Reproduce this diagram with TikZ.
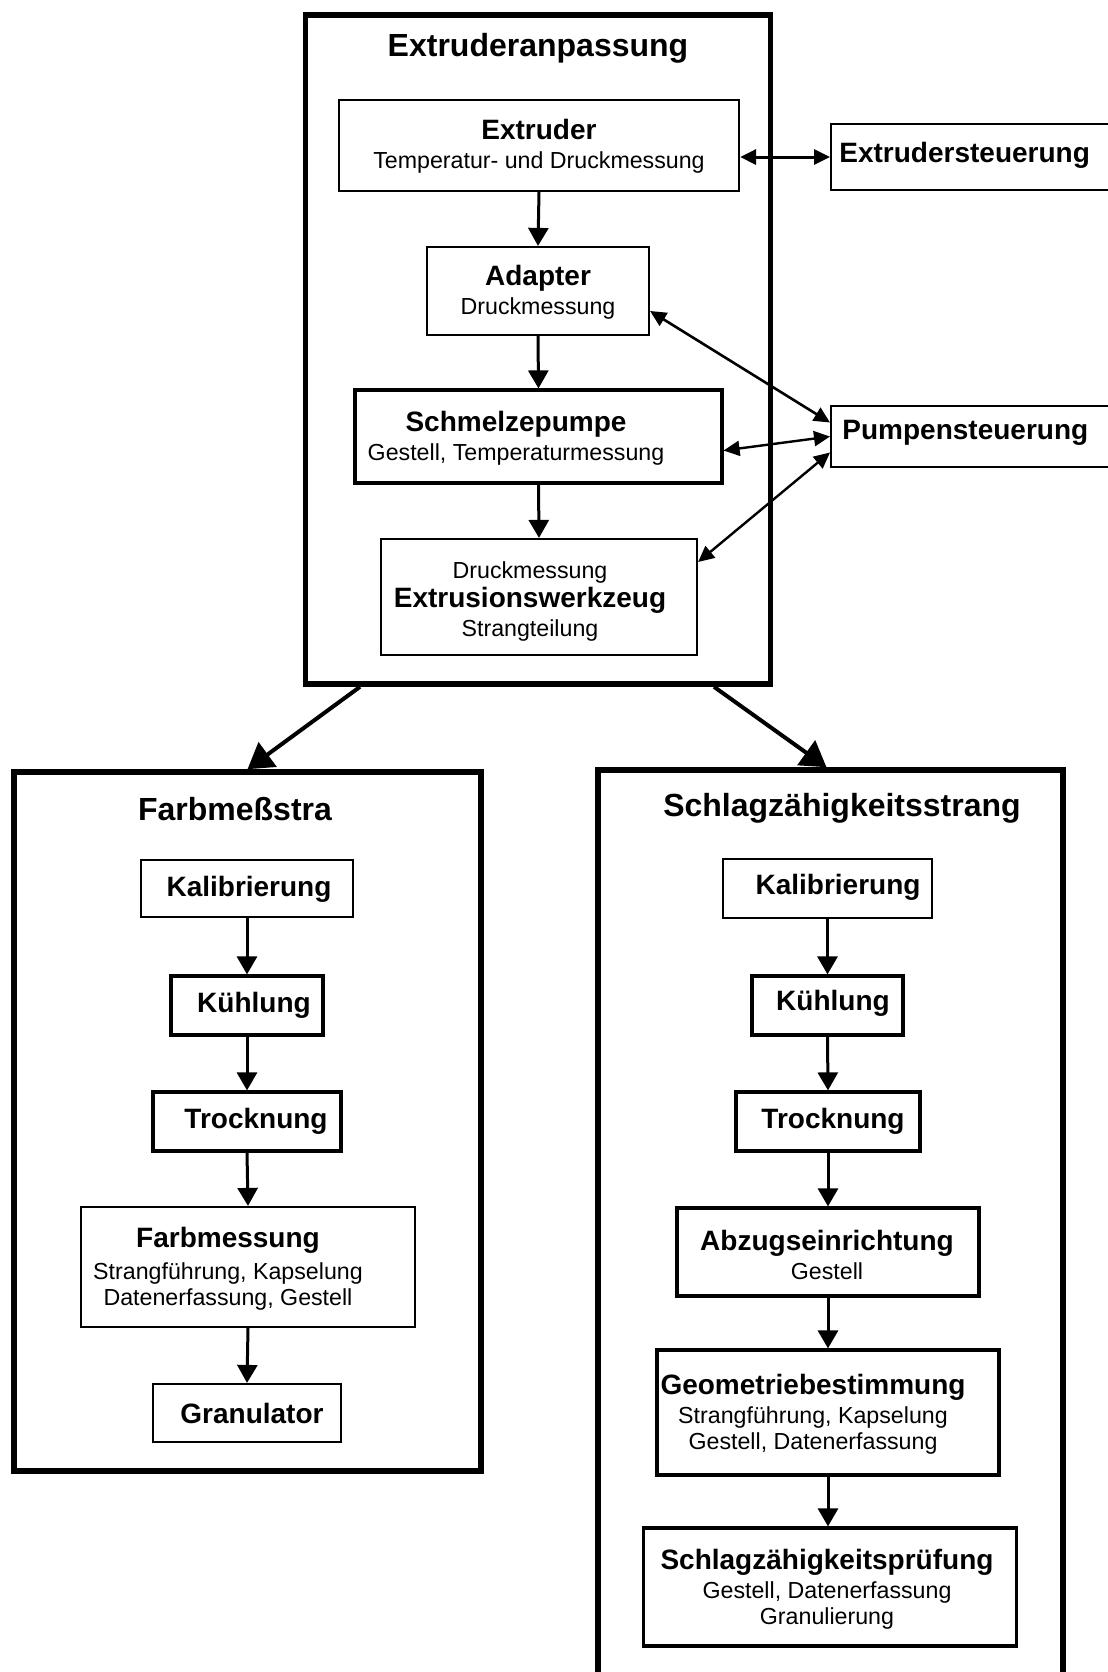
\documentclass[tikz,border=0pt]{standalone}
\usepackage{fontspec}
\setmainfont{Liberation Sans}
\usetikzlibrary{arrows.meta}
\newcommand{\hd}{\fontsize{14}{16}\selectfont\bfseries}
\tikzset{
  frame/.style={draw,line width=2.8pt,inner sep=0},
  box/.style={draw,line width=1.1pt,inner sep=0},
  boxb/.style={box,line width=1.6pt},
  txt/.style={align=center,inner sep=0,font=\fontsize{11.6}{13}\selectfont},
  head/.style={inner sep=0,font=\hd},
  ttl/.style={inner sep=0,font=\fontsize{16}{19}\selectfont\bfseries},
  flow/.style={-{Triangle[length=9pt,width=10pt]},line width=1.5pt},
  branch/.style={-{Triangle[length=12.5pt,width=15pt]},line width=2pt},
  ctrl/.style={{Triangle[length=8pt,width=7.5pt]}-{Triangle[length=8pt,width=7.5pt]},line width=1.2pt},
}

\begin{document}
\begin{tikzpicture}[x=0.5pt,y=-0.5pt]
  \useasboundingbox (0,0) rectangle (1108,1672);
  % Extruderanpassung
  \node[frame,minimum width=232.5pt,minimum height=334.5pt] (anp) at (538,349.5) {};
  \node[ttl] (anp-t) at (538,48) {Extruderanpassung};
  \node[box,minimum width=200pt,minimum height=45.5pt] (extr) at (539,145.5) {};
  \node[txt] (extr-t) at (539,146) {{\hd Extruder}\\[1.5pt]Temperatur- und Druckmessung};
  \node[box,minimum width=111pt,minimum height=44pt] (adap) at (538,291) {};
  \node[txt] (adap-t) at (538,292) {{\hd Adapter}\\[1.5pt]Druckmessung};
  \node[boxb,minimum width=183.5pt,minimum height=46.5pt] (pump) at (538.5,436.5) {};
  \node[txt] (pump-t) at (516,438) {{\hd Schmelzepumpe}\\[1.5pt]Gestell, Temperaturmessung};
  \node[box,minimum width=158pt,minimum height=58pt] (werk) at (539,597) {};
  \node[txt] (werk-t) at (530,601) {Druckmessung\\[1.5pt]{\hd Extrusionswerkzeug}\\[1.5pt]Strangteilung};
  \foreach \a/\b in {extr/adap,adap/pump,pump/werk} { \draw[flow] (\a.south) -- (\b.north); }

  % Steuerungen rechts
  \node[box,anchor=west,minimum width=145pt,minimum height=33pt] (esteu) at (830,157) {};
  \node[head,anchor=west] (esteu-t) at (839,155) {Extrudersteuerung};
  \node[box,anchor=west,minimum width=145pt,minimum height=30.5pt] (psteu) at (830,436.5) {};
  \node[head,anchor=west] (psteu-t) at (842,433) {Pumpensteuerung};
  \draw[ctrl,line width=1.5pt] (esteu.west -| extr.east) -- (esteu.west);
  \draw[ctrl,line width=1.3pt] ([yshift=-10pt]adap.east) -- ([yshift=7pt]psteu.west);
  \draw[ctrl] ([yshift=-7pt]pump.east) -- (psteu.west);
  \draw[ctrl] ([yshift=17.5pt]werk.east) -- ([yshift=-8pt]psteu.west);

  % Farbmessstrang
  \node[frame,minimum width=233.5pt,minimum height=349.5pt] (farb) at (247.5,1121.5) {};
  \node[ttl] (farb-t) at (235,809) {Farbmeßstra};
  \node[box,minimum width=106pt,minimum height=28.5pt] (fkal) at (247,888.5) {};
  \node[head] (fkal-t) at (249,889) {Kalibrierung};
  \node[boxb,minimum width=76pt,minimum height=29.5pt] (fkuehl) at (247,1005.5) {};
  \node[head] (fkuehl-t) at (254,1005) {Kühlung};
  \node[boxb,minimum width=94pt,minimum height=29.5pt] (ftrock) at (247,1121.5) {};
  \node[head] (ftrock-t) at (256,1121) {Trocknung};
  \node[box,minimum width=167pt,minimum height=60pt] (fmess) at (248,1267) {};
  \node[txt] (fmess-t) at (228,1269) {{\hd Farbmessung}\\[3pt]Strangführung, Kapselung\\Datenerfassung, Gestell};
  \node[box,minimum width=94pt,minimum height=29pt] (fgran) at (247,1413) {};
  \node[head] (fgran-t) at (252,1413) {Granulator};
  \foreach \a/\b in {fkal/fkuehl,fkuehl/ftrock,ftrock/fmess,fmess/fgran} { \draw[flow] (\a.south) -- (\b.north); }

  % Schlagzaehigkeitsstrang
  \node[frame,minimum width=232.5pt,minimum height=465pt] (schl) at (830.5,1235) {};
  \node[ttl] (schl-t) at (842,808) {Schlagzähigkeitsstrang};
  \node[box,minimum width=104.5pt,minimum height=29.5pt] (skal) at (827.5,888.5) {};
  \node[head] (skal-t) at (838,887) {Kalibrierung};
  \node[boxb,minimum width=75.5pt,minimum height=29.5pt] (skuehl) at (827.5,1005.5) {};
  \node[head] (skuehl-t) at (833,1003) {Kühlung};
  \node[boxb,minimum width=92pt,minimum height=29.5pt] (strock) at (828,1121.5) {};
  \node[head] (strock-t) at (833,1121) {Trocknung};
  \node[boxb,minimum width=151pt,minimum height=44pt] (sabz) at (828,1252) {};
  \node[txt] (sabz-t) at (827,1255) {{\hd Abzugseinrichtung}\\[1.5pt]Gestell};
  \node[boxb,minimum width=171pt,minimum height=62.5pt] (sgeo) at (828,1412.5) {};
  \node[txt] (sgeo-t) at (813,1414) {{\hd Geometriebestimmung}\\[1.5pt]Strangführung, Kapselung\\Gestell, Datenerfassung};
  \node[boxb,minimum width=186.5pt,minimum height=59pt] (spruef) at (830,1587) {};
  \node[txt] (spruef-t) at (827,1589) {{\hd Schlagzähigkeitsprüfung}\\[1.5pt]Gestell, Datenerfassung\\Granulierung};
  \foreach \a/\b in {skal/skuehl,skuehl/strock,strock/sabz,sabz/sgeo} { \draw[flow] (\a.south) -- (\b.north); }
  \draw[flow] (sgeo.south) -- (sgeo.south |- spruef.north);

  % Verzweigung
  \draw[branch] ([xshift=-89pt]anp.south) -- (farb.north);
  \draw[branch] ([xshift=88pt]anp.south) -- ([xshift=-2pt]schl.north);
\end{tikzpicture}
\end{document}
